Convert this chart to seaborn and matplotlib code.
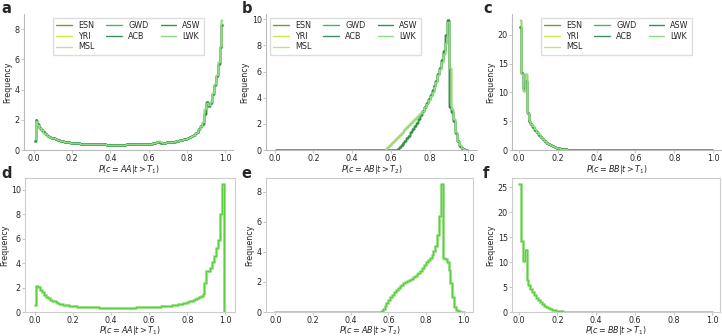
import numpy as np
import pandas as pd
import seaborn as sns
import matplotlib.pyplot as plt

# populations shown in the top row and their colours
pops = ["ESN", "YRI", "MSL", "GWD", "ACB", "ASW", "LWK"]
pop_colors = ["#6c9e3c", "#c8ea4c", "#b5e68a", "#4fb25c", "#3f8f5c", "#2f9444", "#8edb86"]
# which shape each population follows (1 = early rise / lighter group, 2 = darker group)
pop_group = [1, 1, 1, 2, 2, 2, 1]

# bin heights, 100 bins of width 0.01 from 0 to 1 (nan = bin not drawn)
a1 = [0.70, 1.95, 1.65, 1.45, 1.30, 1.15, 1.05, 0.95, 0.88, 0.82,
      0.77, 0.72, 0.68, 0.64, 0.61, 0.58, 0.55, 0.53, 0.51, 0.49,
      0.47, 0.46, 0.45, 0.44, 0.43, 0.42, 0.41, 0.40, 0.40, 0.39,
      0.39, 0.38, 0.38, 0.38, 0.37, 0.37, 0.37, 0.37, 0.36, 0.36,
      0.36, 0.36, 0.36, 0.36, 0.36, 0.36, 0.36, 0.36, 0.37, 0.37,
      0.37, 0.37, 0.38, 0.38, 0.38, 0.39, 0.39, 0.40, 0.40, 0.41,
      0.42, 0.43, 0.44, 0.46, 0.55, 0.62, 0.50, 0.48, 0.49, 0.50,
      0.51, 0.52, 0.54, 0.56, 0.58, 0.60, 0.63, 0.66, 0.70, 0.74,
      0.79, 0.85, 0.92, 1.00, 1.10, 1.22, 1.37, 1.56, 1.85, 2.70,
      3.10, 3.00, 3.20, 3.80, 4.40, 5.00, 5.80, 6.90, 8.60, np.nan]
a2 = [0.60, 2.00, 1.70, 1.48, 1.32, 1.16, 1.05, 0.96, 0.88, 0.82,
      0.77, 0.72, 0.68, 0.64, 0.61, 0.58, 0.55, 0.53, 0.51, 0.49,
      0.47, 0.46, 0.45, 0.44, 0.43, 0.42, 0.41, 0.40, 0.40, 0.39,
      0.39, 0.38, 0.38, 0.38, 0.37, 0.37, 0.37, 0.37, 0.36, 0.36,
      0.36, 0.36, 0.36, 0.36, 0.36, 0.36, 0.36, 0.36, 0.37, 0.37,
      0.37, 0.37, 0.38, 0.38, 0.38, 0.39, 0.39, 0.40, 0.40, 0.41,
      0.42, 0.43, 0.44, 0.45, 0.50, 0.56, 0.49, 0.48, 0.49, 0.50,
      0.51, 0.52, 0.54, 0.56, 0.58, 0.60, 0.63, 0.66, 0.70, 0.74,
      0.79, 0.85, 0.92, 1.00, 1.10, 1.22, 1.37, 1.56, 1.70, 2.40,
      3.20, 2.90, 3.10, 3.70, 4.30, 4.90, 5.70, 6.80, 8.30, np.nan]

b1 = [0.00] * 56 + [
      0.02, 0.10, 0.25, 0.40,
      0.55, 0.70, 0.85, 1.00, 1.15, 1.30, 1.45, 1.60, 1.75, 1.90,
      2.05, 2.20, 2.35, 2.50, 2.65, 2.80, 3.00, 3.25, 3.50, 3.80,
      4.10, 4.45, 4.80, 5.20, 5.70, 6.20, 6.70, 7.30, 8.20, 9.80,
      6.30, 3.10, 2.40, 1.40, 0.70, 0.35, 0.15, 0.06, 0.02, 0.00]
b2 = [0.00] * 62 + [
      0.03, 0.10, 0.20, 0.35, 0.50, 0.70, 0.90, 1.10,
      1.35, 1.60, 1.85, 2.10, 2.40, 2.70, 3.00, 3.30, 3.60, 3.90,
      4.20, 4.55, 4.90, 5.30, 5.80, 6.30, 6.90, 7.60, 8.80, 9.90,
      3.30, 2.90, 2.20, 1.30, 0.65, 0.30, 0.12, 0.05, 0.02, 0.00]

c1 = [22.5, 13.2, 10.3, 13.2, 6.50, 5.10, 4.60, 4.10, 3.60, 3.10,
      2.70, 2.30, 1.95, 1.60, 1.30, 1.05, 0.85, 0.68, 0.54, 0.42,
      0.33, 0.25, 0.19, 0.14, 0.11, 0.08, 0.06, 0.05, 0.04, 0.03,
      0.03, 0.02, 0.02, 0.02, 0.02, 0.02, 0.01, 0.01, 0.01, 0.01] + [0.01] * 60
c2 = [21.4, 13.4, 10.8, 11.9, 6.40, 5.00, 4.50, 4.00, 3.50, 3.05,
      2.65, 2.25, 1.90, 1.58, 1.28, 1.03, 0.83, 0.66, 0.52, 0.41,
      0.32, 0.24, 0.18, 0.14, 0.10, 0.08, 0.06, 0.05, 0.04, 0.03,
      0.03, 0.02, 0.02, 0.02, 0.02, 0.02, 0.01, 0.01, 0.01, 0.01] + [0.01] * 60

d_vals = [0.60, 2.10, 2.05, 1.80, 1.60, 1.40, 1.25, 1.12, 1.02, 0.94,
          0.87, 0.80, 0.74, 0.69, 0.65, 0.61, 0.58, 0.55, 0.52, 0.50,
          0.48, 0.46, 0.45, 0.44, 0.43, 0.42, 0.41, 0.40, 0.39, 0.39,
          0.38, 0.38, 0.37, 0.37, 0.36, 0.36, 0.36, 0.35, 0.35, 0.35,
          0.35, 0.35, 0.35, 0.35, 0.35, 0.35, 0.35, 0.35, 0.35, 0.36,
          0.36, 0.36, 0.36, 0.37, 0.37, 0.37, 0.38, 0.38, 0.39, 0.39,
          0.40, 0.41, 0.42, 0.43, 0.44, 0.45, 0.46, 0.47, 0.48, 0.50,
          0.51, 0.53, 0.55, 0.57, 0.59, 0.62, 0.65, 0.68, 0.72, 0.76,
          0.81, 0.86, 0.92, 0.99, 1.07, 1.15, 1.25, 1.35, 1.50, 2.40,
          3.35, 3.35, 3.60, 4.10, 4.60, 5.20, 5.90, 8.00, 10.45, 0.00]

e_vals = [0.02] * 56 + [
          0.05, 0.20, 0.40, 0.60,
          0.80, 1.00, 1.15, 1.30, 1.45, 1.60, 1.72, 1.82, 1.90, 1.97,
          2.05, 2.12, 2.20, 2.30, 2.40, 2.50, 2.60, 2.75, 2.90, 3.10,
          3.30, 3.45, 3.60, 3.80, 4.05, 4.40, 5.10, 6.40, 8.50, 3.60,
          3.50, 3.30, 2.80, 1.90, 1.00, 0.35, 0.13, 0.05, 0.02, 0.00]

f_vals = [25.6, 14.3, 10.3, 12.5, 6.40, 5.50, 4.70, 4.10, 3.50, 2.90,
          2.40, 2.00, 1.60, 1.30, 1.00, 0.80, 0.60, 0.48, 0.36, 0.27,
          0.20, 0.15, 0.11, 0.08, 0.06, 0.05, 0.04, 0.03, 0.03, 0.02,
          0.02, 0.02, 0.02, 0.02, 0.01, 0.01, 0.01, 0.01, 0.01, 0.01] + [0.01] * 60

edges = np.linspace(0, 1, 101)
centers = (edges[:-1] + edges[1:]) / 2

sns.set_style("white")
plt.rcParams["font.family"] = ["DejaVu Sans"]
plt.rcParams["mathtext.fontset"] = "dejavusans"

fig = plt.figure(figsize=(7.22, 3.36), dpi=100)

W, H = 722, 336
def add_ax(l, r, t, b):
    return fig.add_axes([l / W, 1 - b / H, (r - l) / W, (b - t) / H])

ax_a = add_ax(24, 233, 14, 150)
ax_b = add_ax(266, 477, 14, 150)
ax_c = add_ax(512, 721, 14, 150)
ax_d = add_ax(25, 235, 178, 312)
ax_e = add_ax(266, 473, 178, 312)
ax_f = add_ax(512, 720, 178, 312)

FS = 5.8

top = [(ax_a, a1, a2, r"$P(c=AA|t>T_1)$", "upper center"),
       (ax_b, b1, b2, r"$P(c=AB|t>T_2)$", "upper left"),
       (ax_c, c1, c2, r"$P(c=BB|t>T_1)$", "upper center")]

for ax, g1, g2, xl, loc in top:
    for name, col, grp in zip(pops, pop_colors, pop_group):
        vals = g1 if grp == 1 else g2
        df = pd.DataFrame({"x": centers, "y": vals}).dropna()
        mk = "s" if name in ("ASW", "ACB") else None
        sns.lineplot(data=df, x="x", y="y", ax=ax, color=col, lw=1.0,
                     drawstyle="steps-mid", label=name, marker=mk,
                     markersize=1.4, markeredgewidth=0, estimator=None)
    ax.set_xlabel(xl, fontsize=FS, labelpad=0)
    ax.set_ylabel("Frequency", fontsize=FS, labelpad=1.5)
    for s in ["top", "right"]:
        ax.spines[s].set_visible(False)
    for s in ["left", "bottom"]:
        ax.spines[s].set_color("#bbbbbb")
        ax.spines[s].set_linewidth(0.8)
    leg = ax.legend(loc=loc, ncol=3, fontsize=FS, frameon=True, handlelength=1.9,
                    columnspacing=1.5, borderpad=0.4, labelspacing=0.2,
                    framealpha=1, edgecolor="#dddddd", fancybox=False)
    for h in leg.legend_handles:
        h.set_marker("")

bottom = [(ax_d, d_vals, r"$P(c=AA|t>T_1)$"),
          (ax_e, e_vals, r"$P(c=AB|t>T_2)$"),
          (ax_f, f_vals, r"$P(c=BB|t>T_1)$")]

for ax, vals, xl in bottom:
    df = pd.DataFrame({"x": centers, "w": vals})
    sns.histplot(data=df, x="x", weights="w", bins=100, binrange=(0, 1),
                 element="step", fill=False, color="#a6e596", lw=2.2, ax=ax)
    sns.histplot(data=df, x="x", weights="w", bins=100, binrange=(0, 1),
                 element="step", fill=False, color="#5cd03e", lw=0.9, ax=ax)
    ax.set_xlabel(xl, fontsize=FS, labelpad=-0.5)
    ax.set_ylabel("Frequency", fontsize=FS, labelpad=1.5)
    for s in ax.spines.values():
        s.set_color("#cccccc")
        s.set_linewidth(0.8)

for ax in [ax_a, ax_b, ax_c, ax_d, ax_e, ax_f]:
    ax.margins(x=0.05, y=0.05)
    ax.set_ylim(bottom=0)
    ax.tick_params(labelsize=FS, length=2, width=0.6, color="#bbbbbb",
                   pad=1, bottom=True, left=True)
    ax.set_xticks([0.0, 0.2, 0.4, 0.6, 0.8, 1.0])

ax_a.set_xlim(-0.05, 1.04)
ax_c.set_xlim(-0.035, 1.04)
ax_f.set_xlim(-0.035, 1.04)

for letter, x, y in [("a", 0.002, 0.997), ("b", 0.335, 0.997), ("c", 0.669, 0.997),
                     ("d", 0.002, 0.505), ("e", 0.335, 0.505), ("f", 0.669, 0.505)]:
    fig.text(x, y, letter, fontsize=10.5, fontweight="bold", va="top", ha="left")

fig.savefig("out.png", dpi=100)
